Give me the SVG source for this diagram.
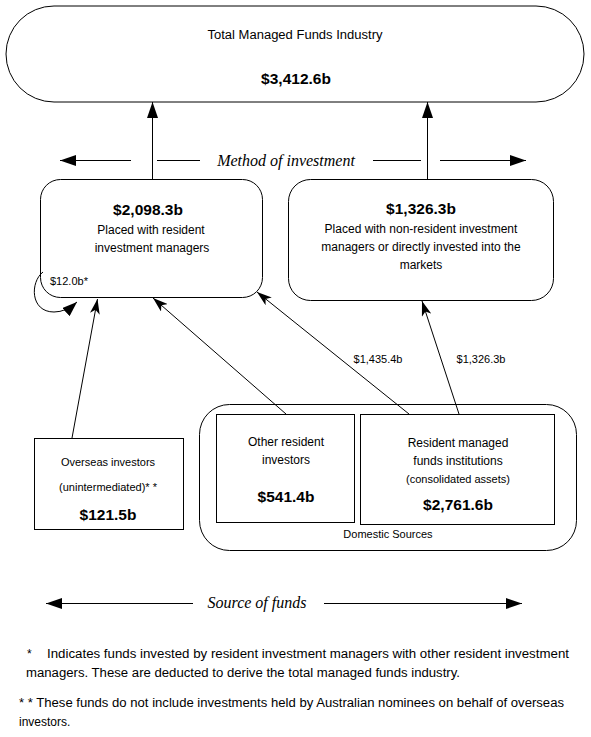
<svg xmlns="http://www.w3.org/2000/svg" width="591" height="737" viewBox="0 0 591 737">
<style>
text{font-family:"Liberation Sans",Arial,sans-serif;fill:#000;text-anchor:middle}
.t{font-size:12px}
.s{font-size:11px}
.b{font-size:15.5px;font-weight:bold}
.i{font-family:"Liberation Serif","Times New Roman",serif;font-style:italic;font-size:16px}
.f{font-size:12px;text-anchor:start}
.shape{fill:#fff;stroke:#000;stroke-width:1}
.ln{fill:none;stroke:#000;stroke-width:1}
</style>
<defs>
<marker id="ah" viewBox="0 0 16 11" refX="16" refY="5.5" markerWidth="16" markerHeight="11" markerUnits="userSpaceOnUse" orient="auto"><path d="M0,0 L16,5.5 L0,11 z" fill="#000"/></marker>
<marker id="ah2" viewBox="0 0 15 10" refX="15" refY="5" markerWidth="15" markerHeight="10" markerUnits="userSpaceOnUse" orient="auto"><path d="M0,0 L15,5 L0,10 L4,5 z" fill="#000"/></marker>
<marker id="ah3" viewBox="0 0 15 11" refX="15" refY="5.5" markerWidth="15" markerHeight="11" markerUnits="userSpaceOnUse" orient="auto"><path d="M0,0 L15,5.5 L0,11 z" fill="#000"/></marker>
</defs>
<rect width="591" height="737" fill="#fff"/>

<g id="total">
<rect class="shape" x="6" y="6" width="578" height="96" rx="48" ry="48"/>
<text class="t" x="295" y="39" textLength="175" lengthAdjust="spacingAndGlyphs">Total Managed Funds Industry</text>
<text class="b" x="296" y="84">$3,412.6b</text>
</g>

<g id="resident-managers">
<rect class="shape" x="40.5" y="179.5" width="222" height="118" rx="20" ry="20"/>
<text class="b" x="148" y="215">$2,098.3b</text>
<text class="t" x="151" y="234">Placed with resident</text>
<text class="t" x="152" y="252">investment managers</text>
<text class="s" x="50" y="285" style="text-anchor:start">$12.0b*</text>
</g>

<g id="non-resident">
<rect class="shape" x="288.5" y="179.5" width="265" height="121" rx="22" ry="22"/>
<text class="b" x="421" y="214">$1,326.3b</text>
<text class="t" x="421" y="233">Placed with non-resident investment</text>
<text class="t" x="421" y="251">managers or directly invested into the</text>
<text class="t" x="421" y="269">markets</text>
</g>

<g id="overseas">
<rect class="shape" x="34.5" y="438.5" width="149" height="91"/>
<text class="s" x="108" y="466">Overseas investors</text>
<text class="s" x="108" y="491">(unintermediated)* *</text>
<text class="b" x="108" y="520">$121.5b</text>
</g>

<g id="domestic">
<rect class="shape" x="199.5" y="404.5" width="377" height="146" rx="30" ry="30"/>
<text class="s" x="388" y="538">Domestic Sources</text>
</g>

<g id="other-resident">
<rect class="shape" x="216.5" y="414.5" width="138" height="108"/>
<text class="t" x="286" y="446">Other resident</text>
<text class="t" x="286" y="464">investors</text>
<text class="b" x="286" y="502">$541.4b</text>
</g>

<g id="resident-funds">
<rect class="shape" x="360.5" y="414.5" width="194" height="110"/>
<text class="t" x="458" y="447">Resident managed</text>
<text class="t" x="458" y="465">funds institutions</text>
<text class="s" x="458" y="483">(consolidated assets)</text>
<text class="b" x="458" y="510">$2,761.6b</text>
</g>

<g id="connectors">
<line class="ln" x1="152.5" y1="179" x2="152.5" y2="102" marker-end="url(#ah)"/>
<line class="ln" x1="427.5" y1="179" x2="427.5" y2="102" marker-end="url(#ah)"/>
<path class="ln" d="M43,272 C30,282 30,312 54,312 Q66,312 77,302" marker-end="url(#ah3)"/>
<line class="ln" x1="72" y1="438" x2="97.5" y2="299" marker-end="url(#ah2)"/>
<line class="ln" x1="286" y1="414" x2="153" y2="298" marker-end="url(#ah2)"/>
<line class="ln" x1="409" y1="414" x2="257" y2="292" marker-end="url(#ah2)"/>
<line class="ln" x1="459" y1="414" x2="422" y2="301" marker-end="url(#ah2)"/>
<text class="s" x="378" y="363">$1,435.4b</text>
<text class="s" x="481" y="363">$1,326.3b</text>
</g>

<g id="method-of-investment">
<line class="ln" x1="131" y1="160.5" x2="60" y2="160.5" marker-end="url(#ah)"/>
<line class="ln" x1="157" y1="160.5" x2="200" y2="160.5"/>
<text class="i" x="286" y="166">Method of investment</text>
<line class="ln" x1="373" y1="160.5" x2="421" y2="160.5"/>
<line class="ln" x1="440" y1="160.5" x2="526" y2="160.5" marker-end="url(#ah)"/>
</g>

<g id="source-of-funds">
<line class="ln" x1="193" y1="603.5" x2="46" y2="603.5" marker-end="url(#ah)"/>
<text class="i" x="257" y="608">Source of funds</text>
<line class="ln" x1="324" y1="603.5" x2="522" y2="603.5" marker-end="url(#ah)"/>
</g>

<g id="notes">
<text class="f" x="27" y="658">*</text>
<text class="f" x="47" y="658" textLength="522" lengthAdjust="spacingAndGlyphs">Indicates funds invested by resident investment managers with other resident investment</text>
<text class="f" x="26" y="677" textLength="434" lengthAdjust="spacingAndGlyphs">managers. These are deducted to derive the total managed funds industry.</text>
<text class="f" x="19" y="707" textLength="545" lengthAdjust="spacingAndGlyphs">* * These funds do not include investments held by Australian nominees on behalf of overseas</text>
<text class="f" x="19" y="726">investors.</text>
</g>
</svg>
